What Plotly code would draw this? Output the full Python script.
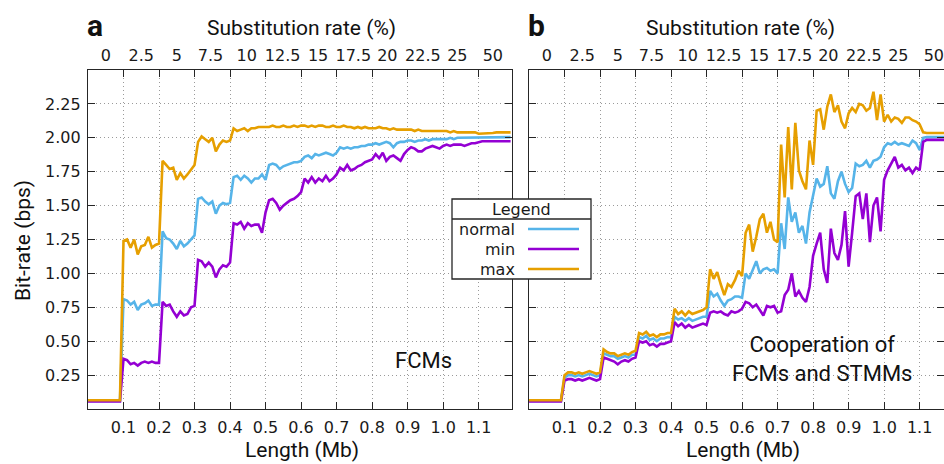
import plotly.graph_objects as go

W, H = 944, 464

# sampling positions along the sequence (Mb), one every 0.01 Mb
length_mb = [round(i * 0.01, 2) for i in range(120)]

# ---------------- panel a : FCMs ----------------
a_normal = [0.06] * 10 + [
    0.81, 0.80, 0.77, 0.79, 0.73, 0.77, 0.78, 0.80, 0.76, 0.77,
    0.77, 1.31, 1.26, 1.25, 1.22, 1.18, 1.24, 1.20, 1.22, 1.25,
    1.28, 1.55, 1.56, 1.53, 1.51, 1.53, 1.44, 1.50, 1.52, 1.51,
    1.52, 1.71, 1.72, 1.69, 1.72, 1.70, 1.67, 1.70, 1.70, 1.73,
    1.69, 1.80, 1.81, 1.80, 1.77, 1.79, 1.80, 1.81, 1.82, 1.82,
    1.83, 1.86, 1.87, 1.85, 1.88, 1.87, 1.88, 1.89, 1.88, 1.87,
    1.89, 1.93, 1.92, 1.93, 1.92, 1.93, 1.93, 1.94, 1.94, 1.95,
    1.95, 1.96, 1.95, 1.96, 1.97, 1.96, 1.93, 1.96, 1.97, 1.97,
    1.98, 1.98, 1.97, 1.98, 1.98, 1.99, 1.98, 1.99, 1.99, 1.99,
    1.99, 1.99, 2.00, 1.99, 2.00, 2.00, 2.00, 2.00, 2.00, 2.00,
    2.005, 2.005, 2.005, 2.005, 2.005, 2.005, 2.005, 2.005, 2.005, 2.005]

a_min = [0.055] * 10 + [
    0.37, 0.36, 0.33, 0.34, 0.32, 0.34, 0.35, 0.34, 0.35, 0.34,
    0.34, 0.79, 0.76, 0.77, 0.72, 0.68, 0.72, 0.69, 0.70, 0.75,
    0.76, 1.10, 1.09, 1.05, 1.08, 1.05, 0.97, 1.03, 1.06, 1.05,
    1.08, 1.37, 1.36, 1.38, 1.33, 1.37, 1.35, 1.36, 1.36, 1.30,
    1.45, 1.54, 1.55, 1.52, 1.47, 1.50, 1.52, 1.54, 1.55, 1.57,
    1.60, 1.70, 1.67, 1.71, 1.67, 1.70, 1.68, 1.72, 1.68, 1.70,
    1.73, 1.78, 1.76, 1.80, 1.76, 1.77, 1.79, 1.80, 1.82, 1.83,
    1.84, 1.88, 1.85, 1.89, 1.83, 1.86, 1.87, 1.85, 1.83, 1.88,
    1.91, 1.93, 1.92, 1.90, 1.90, 1.92, 1.93, 1.94, 1.93, 1.92,
    1.94, 1.95, 1.94, 1.95, 1.95, 1.95, 1.94, 1.95, 1.96, 1.96,
    1.97, 1.975, 1.975, 1.975, 1.975, 1.975, 1.975, 1.975, 1.975, 1.975]

a_max = [0.065] * 10 + [
    1.24, 1.25, 1.19, 1.25, 1.14, 1.20, 1.21, 1.27, 1.19, 1.21,
    1.22, 1.83, 1.80, 1.77, 1.78, 1.69, 1.74, 1.70, 1.73, 1.77,
    1.80, 1.97, 2.01, 1.99, 1.97, 2.00, 1.90, 1.95, 1.98, 1.97,
    1.98, 2.07, 2.05, 2.06, 2.07, 2.05, 2.07, 2.07, 2.08, 2.08,
    2.08, 2.08, 2.09, 2.08, 2.08, 2.09, 2.08, 2.08, 2.09, 2.08,
    2.09, 2.09, 2.08, 2.09, 2.08, 2.09, 2.09, 2.08, 2.08, 2.09,
    2.08, 2.08, 2.09, 2.08, 2.08, 2.07, 2.08, 2.07, 2.08, 2.07,
    2.07, 2.07, 2.08, 2.07, 2.07, 2.06, 2.07, 2.06, 2.06, 2.06,
    2.06, 2.06, 2.05, 2.06, 2.05, 2.05, 2.05, 2.05, 2.05, 2.05,
    2.05, 2.05, 2.04, 2.05, 2.04, 2.04, 2.04, 2.04, 2.04, 2.04,
    2.03, 2.03, 2.03, 2.035, 2.035, 2.04, 2.04, 2.04, 2.04, 2.04]

# ---------------- panel b : cooperation of FCMs and STMMs ----------------
b_normal = [0.06] * 10 + [
    0.23, 0.25, 0.25, 0.24, 0.25, 0.24, 0.25, 0.26, 0.25, 0.24,
    0.25, 0.41, 0.40, 0.39, 0.39, 0.37, 0.38, 0.39, 0.38, 0.40,
    0.40, 0.53, 0.52, 0.54, 0.51, 0.52, 0.50, 0.52, 0.52, 0.53,
    0.53, 0.68, 0.66, 0.67, 0.65, 0.67, 0.65, 0.66, 0.67, 0.68,
    0.68, 0.87, 0.83, 0.85, 0.80, 0.76, 0.80, 0.81, 0.83, 0.83,
    0.82, 1.00, 0.96, 1.03, 1.09, 1.00, 1.03, 1.04, 1.02, 1.03,
    1.00, 1.37, 1.18, 1.56, 1.38, 1.45, 1.30, 1.35, 1.22, 1.45,
    1.59, 1.70, 1.64, 1.66, 1.79, 1.59, 1.55, 1.68, 1.75, 1.66,
    1.60, 1.63, 1.81, 1.79, 1.80, 1.83, 1.78, 1.83, 1.84, 1.86,
    1.93, 1.96, 1.95, 1.97, 1.95, 1.96, 1.95, 1.94, 1.98, 1.96,
    1.91, 2.00, 2.005, 2.005, 2.005, 2.005, 2.005, 2.005, 2.005, 2.005]

b_min = [0.055] * 10 + [
    0.21, 0.22, 0.22, 0.21, 0.22, 0.21, 0.22, 0.23, 0.22, 0.21,
    0.22, 0.38, 0.37, 0.36, 0.35, 0.33, 0.35, 0.36, 0.35, 0.37,
    0.38, 0.50, 0.49, 0.50, 0.47, 0.48, 0.46, 0.48, 0.48, 0.49,
    0.50, 0.64, 0.61, 0.63, 0.60, 0.62, 0.60, 0.61, 0.62, 0.63,
    0.62, 0.71, 0.72, 0.71, 0.72, 0.70, 0.69, 0.72, 0.71, 0.72,
    0.74, 0.79, 0.78, 0.75, 0.77, 0.73, 0.69, 0.76, 0.75, 0.76,
    0.71, 0.72, 0.84, 0.88, 1.00, 0.83, 0.87, 0.82, 0.79, 0.90,
    1.13, 1.22, 1.30, 1.03, 0.93, 1.33, 1.15, 1.10, 1.21, 1.46,
    1.05, 1.30, 1.57, 1.59, 1.40, 1.59, 1.23, 1.50, 1.56, 1.31,
    1.69, 1.76, 1.81, 1.86, 1.78, 1.80, 1.76, 1.78, 1.74, 1.78,
    1.76, 1.97, 1.985, 1.985, 1.985, 1.985, 1.985, 1.985, 1.985, 1.985]

b_max = [0.065] * 10 + [
    0.25, 0.27, 0.27, 0.26, 0.27, 0.26, 0.27, 0.28, 0.27, 0.26,
    0.27, 0.44, 0.42, 0.41, 0.41, 0.39, 0.40, 0.41, 0.40, 0.42,
    0.43, 0.56, 0.55, 0.57, 0.54, 0.55, 0.53, 0.55, 0.55, 0.56,
    0.56, 0.74, 0.70, 0.72, 0.69, 0.72, 0.70, 0.71, 0.72, 0.73,
    0.75, 1.03, 0.96, 1.01, 0.92, 0.84, 0.92, 0.90, 0.95, 1.02,
    0.98, 1.30, 1.36, 1.16, 1.27, 1.40, 1.44, 1.30, 1.38, 1.25,
    1.23, 1.95, 1.56, 2.08, 1.62, 2.11, 1.76, 1.68, 1.62, 1.98,
    1.80, 2.20, 2.21, 2.06, 2.23, 2.32, 2.19, 2.24, 2.12, 2.07,
    2.18, 2.22, 2.19, 2.25, 2.24, 2.20, 2.22, 2.34, 2.13, 2.32,
    2.12, 2.17, 2.12, 2.15, 2.14, 2.11, 2.15, 2.15, 2.13, 2.12,
    2.10, 2.04, 2.035, 2.035, 2.035, 2.035, 2.035, 2.035, 2.035, 2.035]

# ---------------- axes ticks ----------------
length_ticks = [0.1, 0.2, 0.3, 0.4, 0.5, 0.6, 0.7, 0.8, 0.9, 1.0, 1.1]
length_labels = ["0.1", "0.2", "0.3", "0.4", "0.5", "0.6", "0.7", "0.8", "0.9", "1.0", "1.1"]
subst_pos = [0.05, 0.15, 0.25, 0.345, 0.447, 0.548, 0.648, 0.747, 0.843, 0.943, 1.04, 1.14]
subst_labels = ["0", "2.5", "5", "7.5", "10", "12.5", "15", "17.5", "20", "22.5", "25", "50"]
bitrate_ticks = [0.25, 0.50, 0.75, 1.00, 1.25, 1.50, 1.75, 2.00, 2.25]

series_names = ["normal", "min", "max"]
colors = {"normal": "#56B4E9", "min": "#9400D3", "max": "#E69F00"}
panel_a = {"normal": a_normal, "min": a_min, "max": a_max}
panel_b = {"normal": b_normal, "min": b_min, "max": b_max}

# ---------------- geometry (pixels) ----------------
AX0, AX1 = 88, 512
BX0, BX1 = 529, 944
PY0, PY1 = 70, 409
A_RANGE = [0, 1.194]
B_RANGE = [0, 1.194 * (BX1 - BX0) / (AX1 - AX0)]
LW = 2.6


def fx(p):
    return p / W


def fy(p):
    return 1 - p / H


fig = go.Figure()
for name in series_names:
    fig.add_trace(go.Scatter(x=length_mb, y=panel_a[name], mode="lines", name=name,
                             line=dict(color=colors[name], width=LW),
                             xaxis="x", yaxis="y", showlegend=False))
for name in series_names:
    fig.add_trace(go.Scatter(x=length_mb, y=panel_b[name], mode="lines", name=name,
                             line=dict(color=colors[name], width=LW),
                             xaxis="x2", yaxis="y2", showlegend=False))
# empty traces so that the top (substitution rate) axes get drawn
fig.add_trace(go.Scatter(x=[], y=[], xaxis="x3", yaxis="y", showlegend=False, hoverinfo="skip"))
fig.add_trace(go.Scatter(x=[], y=[], xaxis="x4", yaxis="y2", showlegend=False, hoverinfo="skip"))

AXCOL = "#262626"
GRIDCOL = "#9a9a9a"
TICKFONT = dict(family="DejaVu Sans", size=16, color="#1a1a1a")
common_x = dict(tickvals=length_ticks, ticktext=length_labels, ticks="inside", ticklen=7,
                tickcolor=AXCOL, tickwidth=1, showline=True, linecolor=AXCOL, linewidth=1.3,
                mirror="ticks", showgrid=True, gridcolor=GRIDCOL, griddash="1px,3px", gridwidth=1,
                zeroline=False, tickfont=TICKFONT, ticklabelstandoff=4)
common_y = dict(range=[0, 2.5], tickvals=bitrate_ticks, tickformat=".2f", ticks="inside",
                ticklen=7, tickcolor=AXCOL, tickwidth=1, showline=True, linecolor=AXCOL,
                linewidth=1.3, mirror="ticks", showgrid=True, gridcolor=GRIDCOL,
                griddash="1px,3px", gridwidth=1, zeroline=False, tickfont=TICKFONT,
                domain=[fy(PY1), fy(PY0)])
top_x = dict(side="top", tickvals=subst_pos, ticktext=subst_labels, ticks="",
             showline=False, showgrid=False, zeroline=False, tickfont=TICKFONT,
             ticklabelstandoff=5)

fig.update_layout(
    width=W, height=H, margin=dict(l=0, r=0, t=0, b=0),
    paper_bgcolor="white", plot_bgcolor="white", showlegend=False,
    xaxis=dict(domain=[fx(AX0), fx(AX1)], range=A_RANGE, anchor="y", **common_x),
    yaxis=dict(anchor="x", showticklabels=True, ticklabelstandoff=3, **common_y),
    xaxis2=dict(domain=[fx(BX0), fx(BX1)], range=B_RANGE, anchor="y2", **common_x),
    yaxis2=dict(anchor="x2", showticklabels=False, **common_y),
    xaxis3=dict(overlaying="x", anchor="y", domain=[fx(AX0), fx(AX1)], range=A_RANGE, **top_x),
    xaxis4=dict(overlaying="x2", anchor="y2", domain=[fx(BX0), fx(BX1)], range=B_RANGE, **top_x),
)

TITLEFONT = dict(family="Roboto", size=21, color="#111111")
ann = []


def add_text(text, x, y, font, xanchor="center", yanchor="middle", textangle=0, align="center"):
    ann.append(dict(text=text, x=fx(x), y=fy(y), xref="paper", yref="paper", showarrow=False,
                    xanchor=xanchor, yanchor=yanchor, font=font, textangle=textangle, align=align))


add_text("<b>a</b>", 85, 26, dict(family="Roboto", size=30, color="#111111"), xanchor="left")
add_text("<b>b</b>", 526, 26, dict(family="Roboto", size=30, color="#111111"), xanchor="left")
add_text("Substitution rate (%)", 301, 28, TITLEFONT)
add_text("Substitution rate (%)", 740, 28, TITLEFONT)
add_text("Length (Mb)", 302, 450, TITLEFONT)
add_text("Length (Mb)", 743, 450, TITLEFONT)
add_text("Bit-rate (bps)", 23, 241, TITLEFONT, textangle=-90)
add_text("FCMs", 423, 360, dict(family="Roboto", size=22, color="#111111"))
add_text("Cooperation of<br>FCMs and STMMs", 822, 359, dict(family="Roboto", size=22, color="#111111"))

# legend box
LX0, LX1, LY0, LY1, LHDR = 452, 591, 199, 279, 219
shapes = [
    dict(type="rect", xref="paper", yref="paper", x0=fx(LX0), x1=fx(LX1), y0=fy(LY1), y1=fy(LY0),
         fillcolor="white", line=dict(color=AXCOL, width=1.3), layer="above"),
    dict(type="line", xref="paper", yref="paper", x0=fx(LX0), x1=fx(LX1), y0=fy(LHDR), y1=fy(LHDR),
         line=dict(color=AXCOL, width=1.3), layer="above"),
]
LEGFONT = dict(family="DejaVu Sans", size=16, color="#1a1a1a")
add_text("Legend", (LX0 + LX1) / 2, 209, LEGFONT)
for i, name in enumerate(series_names):
    yy = 229 + 20 * i
    add_text(name, 517, yy, LEGFONT, xanchor="right")
    shapes.append(dict(type="line", xref="paper", yref="paper", x0=fx(528), x1=fx(579),
                       y0=fy(yy), y1=fy(yy), line=dict(color=colors[name], width=LW),
                       layer="above"))

fig.update_layout(annotations=ann, shapes=shapes)
fig.write_html("out.html")
